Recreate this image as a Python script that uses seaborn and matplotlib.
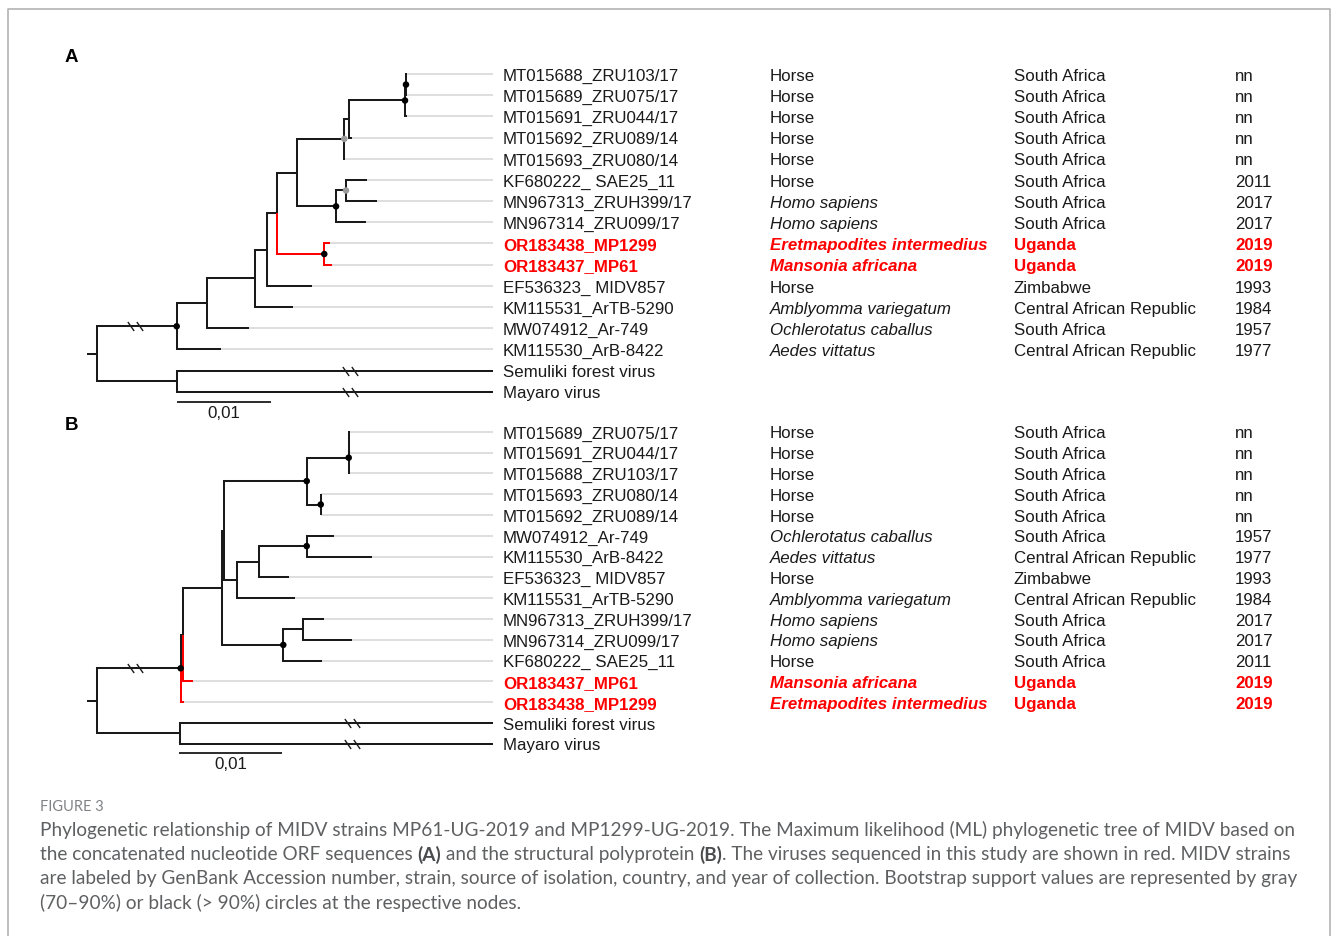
import matplotlib
matplotlib.use("Agg")
import matplotlib.pyplot as plt
import seaborn as sns
import pandas as pd
from matplotlib.path import Path
from matplotlib import transforms
from matplotlib.lines import Line2D

# ------------------------------------------------------------------ data
# Panel A (concatenated ORF tree): tips 0..15 in display order, internal nodes 16..30
A_names = ["MT015688_ZRU103/17", "MT015689_ZRU075/17", "MT015691_ZRU044/17",
           "MT015692_ZRU089/14", "MT015693_ZRU080/14", "KF680222_ SAE25_11",
           "MN967313_ZRUH399/17", "MN967314_ZRU099/17", "OR183438_MP1299",
           "OR183437_MP61", "EF536323_ MIDV857", "KM115531_ArTB-5290",
           "MW074912_Ar-749", "KM115530_ArB-8422", "Semuliki forest virus", "Mayaro virus"]
A_source = ["Horse", "Horse", "Horse", "Horse", "Horse", "Horse", "Homo sapiens",
            "Homo sapiens", "Eretmapodites intermedius", "Mansonia africana", "Horse",
            "Amblyomma variegatum", "Ochlerotatus caballus", "Aedes vittatus", "", ""]
A_country = ["South Africa"] * 8 + ["Uganda", "Uganda", "Zimbabwe",
             "Central African Republic", "South Africa", "Central African Republic", "", ""]
A_year = ["nn", "nn", "nn", "nn", "nn", "2011", "2017", "2017", "2019", "2019",
          "1993", "1984", "1957", "1977", "", ""]
A_parent = [28, 28, 27, 26, 25, 30, 30, 29, 23, 23, 21, 20, 19, 17, 18, 18,
            -1, 16, 16, 17, 19, 20, 21, 22, 22, 24, 25, 26, 27, 24, 29]
A_depth = [0.03298, 0.03298, 0.03298, 0.02713, 0.02641, 0.02879, 0.02985, 0.02865,
           0.02482, 0.02500, 0.02287, 0.02091, 0.01620, 0.01322, 0.04219, 0.04219,
           0.0, 0.00851, 0.00851, 0.01177, 0.01684, 0.01815, 0.01921, 0.02421,
           0.02128, 0.02634, 0.02687, 0.03280, 0.03290, 0.02546, 0.02652]
A_red_edges = [23, 8, 9]
A_red_tips = [8, 9]
A_support_nodes = [17, 23, 27, 28, 29, 25, 30]
A_support_class = [">90%", ">90%", ">90%", ">90%", ">90%", "70-90%", "70-90%"]
A_breaks = [(17, 0.00407), (14, 0.02695), (15, 0.02695)]
A_scale = (0.00851, 0.01)

# Panel B (structural polyprotein tree)
B_names = ["MT015689_ZRU075/17", "MT015691_ZRU044/17", "MT015688_ZRU103/17",
           "MT015693_ZRU080/14", "MT015692_ZRU089/14", "MW074912_Ar-749",
           "KM115530_ArB-8422", "EF536323_ MIDV857", "KM115531_ArTB-5290",
           "MN967313_ZRUH399/17", "MN967314_ZRU099/17", "KF680222_ SAE25_11",
           "OR183437_MP61", "OR183438_MP1299", "Semuliki forest virus", "Mayaro virus"]
B_source = ["Horse", "Horse", "Horse", "Horse", "Horse", "Ochlerotatus caballus",
            "Aedes vittatus", "Horse", "Amblyomma variegatum", "Homo sapiens",
            "Homo sapiens", "Horse", "Mansonia africana", "Eretmapodites intermedius", "", ""]
B_country = ["South Africa"] * 6 + ["Central African Republic", "Zimbabwe",
             "Central African Republic", "South Africa", "South Africa", "South Africa",
             "Uganda", "Uganda", "", ""]
B_year = ["nn", "nn", "nn", "nn", "nn", "1957", "1977", "1993", "1984", "2017",
          "2017", "2011", "2019", "2019", "", ""]
B_parent = [24, 24, 23, 25, 25, 28, 28, 27, 26, 30, 30, 29, 19, 17, 18, 18,
            -1, 16, 16, 17, 19, 20, 21, 22, 23, 22, 21, 26, 27, 20, 29]
B_depth = [0.02469, 0.02469, 0.02469, 0.02195, 0.02195, 0.02317, 0.02686, 0.01881,
           0.01937, 0.02223, 0.02496, 0.02197, 0.00938, 0.00853, 0.03873, 0.03873,
           0.0, 0.00820, 0.00813, 0.00846, 0.01221, 0.01243, 0.02051, 0.02461,
           0.02464, 0.02188, 0.01367, 0.01588, 0.02051, 0.01822, 0.02012]
B_red_edges = [12, 13]
B_red_tips = [12, 13]
B_support_nodes = [17, 22, 23, 25, 28, 29]
B_support_class = [">90%"] * 6
B_breaks = [(17, 0.00374), (14, 0.0249), (15, 0.0249)]
B_scale = (0.00807, 0.01)

caption_title = "FIGURE 3"
caption_lines = [
    [("Phylogenetic relationship of MIDV strains MP61-UG-2019 and MP1299-UG-2019. The Maximum likelihood (ML) phylogenetic tree of MIDV based on", False)],
    [("the concatenated nucleotide ORF sequences ", False), ("(A)", True),
     (" and the structural polyprotein ", False), ("(B)", True),
     (". The viruses sequenced in this study are shown in red. MIDV strains", False)],
    [("are labeled by GenBank Accession number, strain, source of isolation, country, and year of collection. Bootstrap support values are represented by gray", False)],
    [("(70\u201390%) or black (> 90%) circles at the respective nodes.", False)],
]

# ------------------------------------------------------------------ style
sns.set_theme(style="white")
plt.rcParams["font.family"] = ["Liberation Sans", "DejaVu Sans"]

W, H = 1331, 937
fig = plt.figure(figsize=(W / 100, H / 100), dpi=100)
fig.patch.set_facecolor("white")

RED = "#ff0000"
BLACK = "#1a1a1a"
LEADER = "#d4d4d4"
FS = 12.2
COL_NAME, COL_SRC, COL_CTRY, COL_YEAR = 503, 770, 1014, 1235
LABEL_LINE_PX = 493.3

brk_path = Path([(-1.7, 1.0), (-0.3, -1.0), (0.3, 1.0), (1.7, -1.0)],
                [Path.MOVETO, Path.LINETO, Path.MOVETO, Path.LINETO])


def node_y(parent, n_tips):
    n = len(parent)
    ys = [None] * n
    for i in range(n_tips):
        ys[i] = float(i)
    children = {i: [] for i in range(n)}
    for c, p in enumerate(parent):
        if p >= 0:
            children[p].append(c)
    changed = True
    while changed:
        changed = False
        for i in range(n):
            if ys[i] is None and children[i] and all(ys[c] is not None for c in children[i]):
                ys[i] = sum(ys[c] for c in children[i]) / len(children[i])
                changed = True
    return ys


def draw_panel(letter, letter_y, root_px, ppu, tip0, sp, names, source, country, year,
               parent, depth, red_edges, red_tips, sup_nodes, sup_class, breaks, scale,
               bar_y):
    i_top, i_bot = -1.5, 16.8
    ax = fig.add_axes([0, 1 - (tip0 + i_bot * sp) / H, 1, (i_bot - i_top) * sp / H])
    ax.patch.set_visible(False)
    n_tips = len(names)
    ys = node_y(parent, n_tips)
    label_x = (LABEL_LINE_PX - root_px) / ppu

    # leader lines to aligned labels
    for t in range(n_tips):
        if depth[t] < label_x - 1e-6:
            ax.plot([depth[t], label_x], [ys[t], ys[t]], color=LEADER, lw=1.1,
                    solid_capstyle="butt", zorder=1)

    # edges (elbow style): black first, red on top
    for pass_red in (False, True):
        for c, p in enumerate(parent):
            if p < 0:
                continue
            is_red = c in red_edges
            if is_red != pass_red:
                continue
            ax.plot([depth[p], depth[p], depth[c]], [ys[p], ys[c], ys[c]],
                    color=RED if is_red else BLACK, lw=1.45,
                    solid_joinstyle="miter", solid_capstyle="butt",
                    zorder=3 if is_red else 2)
    # root stub
    root = parent.index(-1)
    ax.plot([depth[root] - 10.0 / ppu, depth[root]], [ys[root], ys[root]],
            color=BLACK, lw=1.45, solid_capstyle="butt", zorder=2)

    # branch break marks
    for node, bx in breaks:
        ax.plot([bx], [ys[node]], marker=brk_path, markersize=11, color=BLACK,
                markerfacecolor="none", markeredgewidth=1.0, linestyle="none", zorder=4)

    # bootstrap support dots
    df = pd.DataFrame({"x": [depth[n] for n in sup_nodes],
                       "y": [ys[n] for n in sup_nodes],
                       "support": sup_class})
    sns.scatterplot(data=df, x="x", y="y", hue="support",
                    palette={">90%": "black", "70-90%": "#9a9a9a"},
                    s=22, linewidth=0, legend=False, ax=ax, zorder=5)
    ax.set_xlim(-root_px / ppu, (W - root_px) / ppu)
    ax.set_ylim(i_bot, i_top)
    ax.axis("off")

    # scale bar
    ax.plot([scale[0], scale[0] + scale[1]], [bar_y, bar_y], color=BLACK, lw=1.3,
            solid_capstyle="butt")
    ax.text(scale[0] + scale[1] / 2, bar_y + 0.5, "0,01", ha="center", va="center",
            fontsize=FS, color=BLACK)

    # label columns
    tr = transforms.blended_transform_factory(fig.transFigure, ax.transData)
    for t in range(n_tips):
        red = t in red_tips
        col = RED if red else BLACK
        wt = "bold" if red else "normal"
        yy = ys[t] + 0.06
        ax.text(COL_NAME / W, yy, names[t], transform=tr, ha="left", va="center",
                fontsize=FS, color=col, fontweight=wt)
        if source[t]:
            ax.text(COL_SRC / W, yy, source[t], transform=tr, ha="left", va="center",
                    fontsize=FS, color=col, fontweight=wt,
                    fontstyle="normal" if source[t] == "Horse" else "italic")
        if country[t]:
            ax.text(COL_CTRY / W, yy, country[t], transform=tr, ha="left", va="center",
                    fontsize=FS, color=col, fontweight=wt)
        if year[t]:
            ax.text(COL_YEAR / W, yy, year[t], transform=tr, ha="left", va="center",
                    fontsize=FS, color=col, fontweight=wt)

    fig.text(65 / W, 1 - letter_y / H, letter, ha="left", va="center",
             fontsize=13.5, fontweight="bold", color="black")
    return ax


draw_panel("A", 57, 96.7, 9400, 75.0, 21.18, A_names, A_source, A_country, A_year,
           A_parent, A_depth, A_red_edges, A_red_tips, A_support_nodes, A_support_class,
           A_breaks, A_scale, 15.5)
draw_panel("B", 425, 96.7, 10240, 432.7, 20.8, B_names, B_source, B_country, B_year,
           B_parent, B_depth, B_red_edges, B_red_tips, B_support_nodes, B_support_class,
           B_breaks, B_scale, 15.45)

# ------------------------------------------------------------------ frame
fcol = "#b3b3b3"
fig.add_artist(Line2D([8 / W, 8 / W, 1330 / W, 1330 / W], [0, 1 - 10 / H, 1 - 10 / H, 0],
                      transform=fig.transFigure, color=fcol, lw=1.2))

# ------------------------------------------------------------------ caption
renderer = fig.canvas.get_renderer()
cap_font = ["Lato", "DejaVu Sans"]
cap_col = "#5f6062"
fig.text(40 / W, 1 - 807 / H, caption_title, ha="left", va="center", fontsize=10.5,
         color="#808285", family=cap_font)

# fit caption size so that the long lines end where they do in the reference
targets = [1249.0, 1244.0, 1257.0]
scales = []
for segs, tw in zip(caption_lines[:3], targets):
    probe = fig.text(0, 0, "".join(s for s, _ in segs), fontsize=12, family=cap_font)
    scales.append(tw / probe.get_window_extent(renderer).width)
    probe.remove()
cap_fs = 12 * min(scales)

line_y = [830, 854.5, 879, 903]
for segs, ly in zip(caption_lines, line_y):
    x = 40.0
    for txt, bold in segs:
        t = fig.text(x / W, 1 - ly / H, txt, ha="left", va="center", fontsize=cap_fs,
                     color=cap_col if not bold else "#4a4b4d",
                     fontweight="bold" if bold else "normal", family=cap_font)
        bb = t.get_window_extent(renderer)
        x = bb.x1

fig.savefig("out.png", dpi=100, facecolor="white")
